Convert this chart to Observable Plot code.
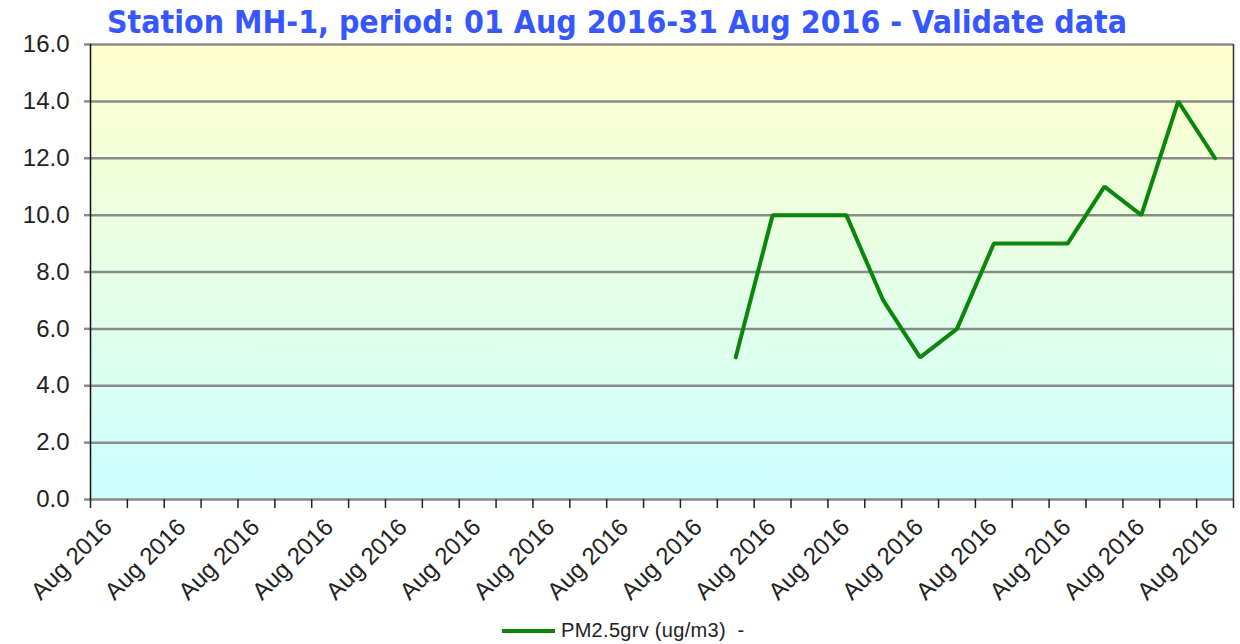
<!DOCTYPE html>
<html><head><meta charset="utf-8">
<script src="https://cdn.jsdelivr.net/npm/d3@7"></script>
<script src="https://cdn.jsdelivr.net/npm/@observablehq/plot@0.6"></script>
<style>
body{margin:0;background:#fff;font-family:Arial,"Liberation Sans",sans-serif;}
#wrap{position:relative;width:1240px;height:644px;overflow:hidden;background:#fff;}
#chart{position:absolute;left:0;top:0;}
#title{position:absolute;left:107px;top:6px;font-family:"DejaVu Sans",sans-serif;font-weight:bold;font-size:32px;line-height:32px;color:#3657ff;white-space:nowrap;transform-origin:0 0;z-index:2;}
#legend{position:absolute;left:0;top:602px;width:1240px;height:42px;}
#legend .bar{position:absolute;left:502px;top:27px;width:53px;height:4px;background:#0a870a;}
#legend .lab{position:absolute;left:561px;top:17px;font-size:20px;line-height:22px;color:#222;white-space:pre;letter-spacing:0.3px;}
</style></head><body>
<div id="wrap"><div id="chart"></div><div id="title"></div><div id="legend"></div></div>
<script>
const titleText = "Station MH-1, period: 01 Aug 2016-31 Aug 2016 - Validate data";
const seriesName = "PM2.5grv (ug/m3)  -";
const days = [1,2,3,4,5,6,7,8,9,10,11,12,13,14,15,16,17,18,19,20,21,22,23,24,25,26,27,28,29,30,31];
const values = [null,null,null,null,null,null,null,null,null,null,null,null,null,null,null,null,null,5,10,10,10,7,5,6,9,9,9,11,10,14,12];
const labelDays = [1,3,5,7,9,11,13,15,17,19,21,23,25,27,29,31];
const tickLabels = ["Aug 2016","Aug 2016","Aug 2016","Aug 2016","Aug 2016","Aug 2016","Aug 2016","Aug 2016","Aug 2016","Aug 2016","Aug 2016","Aug 2016","Aug 2016","Aug 2016","Aug 2016","Aug 2016"];
const yTicks = [0,2,4,6,8,10,12,14,16];
const yTickLabels = ["0.0","2.0","4.0","6.0","8.0","10.0","12.0","14.0","16.0"];

const data = days.map((d,i)=>({day:d, value:values[i]}));
const labelData = labelDays.map((d,i)=>({day:d, label:tickLabels[i]}));
const boundaries = [days[0]-0.5, ...days.map(d=>d+0.5)];

const plot = Plot.plot({
  width:1240, height:602,
  marginTop:44, marginBottom:103, marginLeft:90, marginRight:7,
  x:{type:"linear", domain:[0.5,31.5], axis:null, label:null},
  y:{domain:[0,16], axis:null, label:null},
  style:{overflow:"visible", fontFamily:"Arial, 'Liberation Sans', sans-serif", background:"transparent"},
  marks:[
    Plot.frame({fill:"url(#bgGrad)", stroke:null}),
    Plot.ruleY(yTicks, {stroke:"#8a8a8a", strokeWidth:2.5}),
    Plot.axisY(yTicks, {label:null, tickSize:6, tickPadding:15, tickFormat:(d)=>yTickLabels[yTicks.indexOf(d)], fontSize:24, stroke:"#8a8a8a", strokeWidth:2.5, fill:"#222"}),
    Plot.ruleX([0.5], {stroke:"#111", strokeWidth:1.5}),
    Plot.ruleX([31.5], {stroke:"#333", strokeWidth:1.5}),
    Plot.axisX(boundaries, {label:null, tickSize:9, tickFormat:()=>"", stroke:"#222", strokeWidth:1.5}),
    Plot.text(labelData, {x:"day", text:"label", frameAnchor:"bottom", dx:4.5, dy:29, rotate:-45, textAnchor:"end", lineAnchor:"bottom", fontSize:24, fill:"#222"}),
    Plot.line(data, {x:"day", y:"value", stroke:"#0a870a", strokeWidth:4, strokeLinejoin:"miter"})
  ]
});

const ns = "http://www.w3.org/2000/svg";
const defs = document.createElementNS(ns, "defs");
const grad = document.createElementNS(ns, "linearGradient");
grad.setAttribute("id", "bgGrad");
grad.setAttribute("x1","0"); grad.setAttribute("y1","0"); grad.setAttribute("x2","0"); grad.setAttribute("y2","1");
[["0%","#ffffcc"],["100%","#ccffff"]].forEach(([o,c])=>{
  const s = document.createElementNS(ns,"stop");
  s.setAttribute("offset",o); s.setAttribute("stop-color",c);
  grad.appendChild(s);
});
defs.appendChild(grad);
plot.insertBefore(defs, plot.firstChild);
document.getElementById("chart").appendChild(plot);

const t = document.getElementById("title");
t.textContent = titleText;
const w = t.getBoundingClientRect().width;
t.style.transform = `scaleX(${1020 / w})`;

const lg = document.getElementById("legend");
lg.innerHTML = `<div class="bar"></div><div class="lab"></div>`;
lg.querySelector(".lab").textContent = seriesName;
</script>
</body></html>
